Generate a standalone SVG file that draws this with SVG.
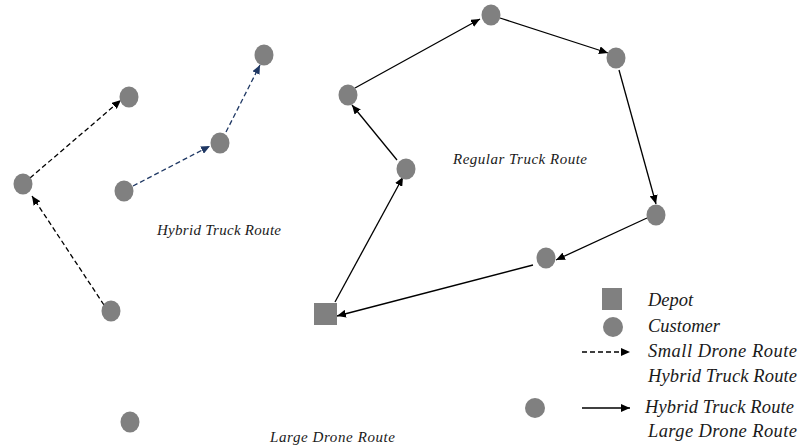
<svg xmlns="http://www.w3.org/2000/svg" width="809" height="448" viewBox="0 0 809 448">
<style>
.node{fill:#808080;}
.lbl{font-family:'Liberation Serif','Times New Roman','DejaVu Serif',serif;font-style:italic;fill:#1a1a1a;}
.big{font-size:18.5px;}
.sm{font-size:15px;}
.solid{stroke:#000;stroke-width:1.3;fill:none;}
.dash{stroke:#000;stroke-width:1.3;fill:none;stroke-dasharray:5,3;}
.dashn{stroke:#1f3864;stroke-width:1.3;fill:none;stroke-dasharray:5,3;}
</style>
<defs>
<marker id="ah" markerUnits="userSpaceOnUse" markerWidth="10" markerHeight="8" refX="9" refY="4" orient="auto">
<path d="M0,0 L9,4 L0,8 Z" fill="#000"/>
</marker>
<marker id="ahn" markerUnits="userSpaceOnUse" markerWidth="10" markerHeight="8" refX="9" refY="4" orient="auto">
<path d="M0,0 L9,4 L0,8 Z" fill="#1f3864"/>
</marker>
</defs>
<rect width="809" height="448" fill="#fff"/>
<g id="connectors">
<line class="dash" x1="30" y1="178" x2="121" y2="100" marker-end="url(#ah)"/>
<line class="dash" x1="104" y1="305" x2="32" y2="196" marker-end="url(#ah)"/>
<line class="dashn" x1="133" y1="186" x2="210" y2="146" marker-end="url(#ahn)"/>
<line class="dashn" x1="226" y1="132" x2="260" y2="65" marker-end="url(#ahn)"/>
<line class="solid" x1="335" y1="302" x2="403" y2="177" marker-end="url(#ah)"/>
<line class="solid" x1="397" y1="160" x2="352" y2="105" marker-end="url(#ah)"/>
<line class="solid" x1="355" y1="88" x2="480" y2="19" marker-end="url(#ah)"/>
<line class="solid" x1="500" y1="18" x2="608" y2="53" marker-end="url(#ah)"/>
<line class="solid" x1="619" y1="70" x2="656" y2="204" marker-end="url(#ah)"/>
<line class="solid" x1="647" y1="218" x2="556" y2="260" marker-end="url(#ah)"/>
<line class="solid" x1="533" y1="265" x2="337" y2="316" marker-end="url(#ah)"/>
</g>
<g id="n-a"><ellipse class="node" cx="129" cy="97" rx="9.5" ry="10.5"/></g>
<g id="n-b"><ellipse class="node" cx="23" cy="184" rx="9.5" ry="10.5"/></g>
<g id="n-c"><ellipse class="node" cx="111" cy="311" rx="9.5" ry="10.5"/></g>
<g id="n-d"><ellipse class="node" cx="124" cy="191" rx="9.5" ry="10.5"/></g>
<g id="n-e"><ellipse class="node" cx="220" cy="143" rx="9.5" ry="10.5"/></g>
<g id="n-f"><ellipse class="node" cx="264" cy="55" rx="9.5" ry="10.5"/></g>
<g id="n-g"><ellipse class="node" cx="130" cy="422" rx="9.5" ry="10.5"/></g>
<g id="depot"><rect class="node" x="314" y="303" width="23" height="22"/></g>
<g id="n-h"><ellipse class="node" cx="406" cy="169" rx="9.5" ry="10.5"/></g>
<g id="n-i"><ellipse class="node" cx="348" cy="95" rx="9.5" ry="10.5"/></g>
<g id="n-j"><ellipse class="node" cx="491" cy="15" rx="9.5" ry="10.5"/></g>
<g id="n-k"><ellipse class="node" cx="616" cy="58" rx="9.5" ry="10.5"/></g>
<g id="n-l"><ellipse class="node" cx="656" cy="215" rx="9.5" ry="10.5"/></g>
<g id="n-m"><ellipse class="node" cx="546" cy="258" rx="9.5" ry="10.5"/></g>
<g id="labels">
<text class="lbl sm" x="453" y="164" textLength="134">Regular Truck Route</text>
<text class="lbl sm" x="157" y="235" textLength="124">Hybrid Truck Route</text>
<text class="lbl sm" x="270" y="442" textLength="125">Large Drone Route</text>
</g>
<g id="legend">
<rect class="node" x="602" y="288" width="20" height="22"/>
<ellipse class="node" cx="613" cy="327" rx="10" ry="10"/>
<line class="dash" x1="582" y1="352" x2="630" y2="352" marker-end="url(#ah)"/>
<ellipse class="node" cx="535" cy="408" rx="10" ry="10"/>
<line class="solid" x1="582" y1="408" x2="630" y2="408" marker-end="url(#ah)"/>
<text class="lbl big" x="648" y="306">Depot</text>
<text class="lbl big" x="648" y="332">Customer</text>
<text class="lbl big" x="648" y="357" textLength="149">Small Drone Route</text>
<text class="lbl big" x="648" y="382" textLength="149">Hybrid Truck Route</text>
<text class="lbl big" x="645" y="413" textLength="149">Hybrid Truck Route</text>
<text class="lbl big" x="648" y="437" textLength="149">Large Drone Route</text>
</g>
</svg>
